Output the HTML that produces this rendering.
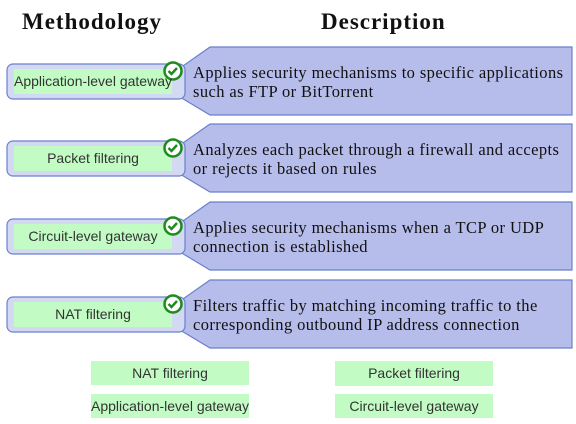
<!DOCTYPE html>
<html><head><style>
body{margin:0;width:576px;height:424px;background:#fff;position:relative;overflow:hidden}
.h{position:absolute;top:9px;font:bold 23px "Liberation Serif",serif;color:#111;letter-spacing:1px}
.t{position:absolute;left:193px;font:16.5px/19px "Liberation Serif",serif;color:#111;letter-spacing:0.4px;white-space:nowrap}
.g{position:absolute;background:#c2fcc4;font:14px "Liberation Sans",sans-serif;color:#333;text-align:center;line-height:24px;white-space:nowrap}
</style></head><body>
<div class="h" style="left:22px">Methodology</div>
<div class="h" style="left:321px">Description</div>
<svg width="576" height="424" style="position:absolute;left:0;top:0">
<g id="r" stroke="#6b80cc" stroke-width="1.2">
<polygon points="210,47 572,47 572,115 210,115 180,97 180,68" fill="#b6bdeb"/>
<rect x="7" y="64" width="178" height="35" rx="6" fill="#d3d8f3"/>
<rect x="14" y="69" width="158" height="25" fill="#c2fcc4" stroke="none"/>
<circle cx="173" cy="71" r="8.5" fill="#fff" stroke="#1f8a1f" stroke-width="2.5"/>
<path d="M168.5,71 l3,3 l5.5,-6" fill="none" stroke="#1f8a1f" stroke-width="2.5"/>
</g>
<use href="#r" y="77"/>
<use href="#r" y="155"/>
<use href="#r" y="233"/>
</svg>
<div class="g" style="left:14px;top:69px;width:158px;height:25px;background:transparent">Application-level gateway</div>
<div class="g" style="left:14px;top:146px;width:158px;height:25px;background:transparent">Packet filtering</div>
<div class="g" style="left:14px;top:224px;width:158px;height:25px;background:transparent">Circuit-level gateway</div>
<div class="g" style="left:14px;top:302px;width:158px;height:25px;background:transparent">NAT filtering</div>
<div class="t" style="top:63px">Applies security mechanisms to specific applications<br>such as FTP or BitTorrent</div>
<div class="t" style="top:140px">Analyzes each packet through a firewall and accepts<br>or rejects it based on rules</div>
<div class="t" style="top:218px">Applies security mechanisms when a TCP or UDP<br>connection is established</div>
<div class="t" style="top:296px">Filters traffic by matching incoming traffic to the<br>corresponding outbound IP address connection</div>
<div class="g" style="left:91px;top:361px;width:158px;height:24px">NAT filtering</div>
<div class="g" style="left:91px;top:394px;width:158px;height:24px">Application-level gateway</div>
<div class="g" style="left:335px;top:361px;width:158px;height:25px">Packet filtering</div>
<div class="g" style="left:335px;top:394px;width:158px;height:24px">Circuit-level gateway</div>
</body></html>
